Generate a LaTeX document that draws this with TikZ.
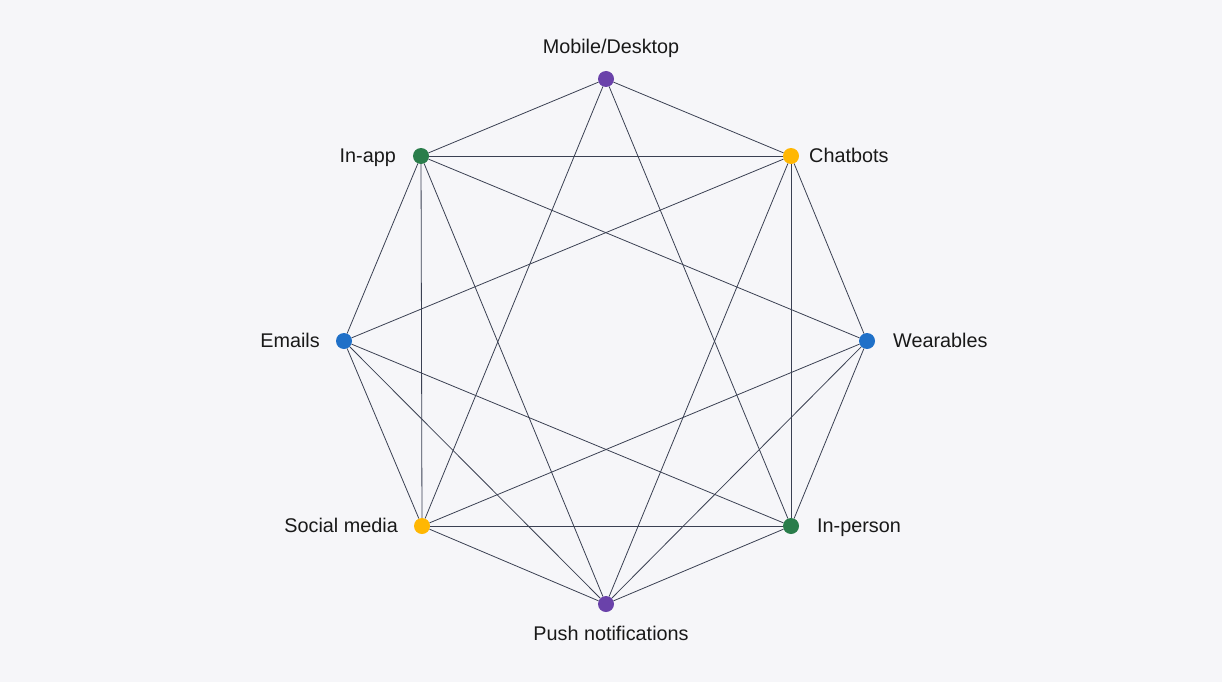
\documentclass[tikz,border=0pt]{standalone}
\usepackage{fontspec}
\setmainfont{Liberation Sans}
\definecolor{bgc}{HTML}{F6F6F9}
\definecolor{edgec}{HTML}{3A4052}
\definecolor{cpurple}{HTML}{6A42AA}
\definecolor{cgreen}{HTML}{2A7D4B}
\definecolor{cyellow}{HTML}{FFB703}
\definecolor{cblue}{HTML}{1F70C8}
\begin{document}
\begin{tikzpicture}[x=1pt,y=-1pt,
  vert/.style={circle,inner sep=0pt,minimum size=16pt},
  lbl/.style={inner sep=0pt,text height=14pt,text depth=4pt,font=\fontsize{19.8}{23}\selectfont,text=black!90},
  edge/.style={draw=edgec,line width=0.8pt}]
\fill[bgc] (0,0) rectangle (1222,682);
\useasboundingbox (0,0) rectangle (1222,682);
\node[vert,fill=cpurple] (m) at (606,79) {};
\node[vert,fill=cyellow] (c) at (791,156) {};
\node[vert,fill=cblue] (w) at (867,341) {};
\node[vert,fill=cgreen] (p) at (791,526) {};
\node[vert,fill=cpurple] (n) at (606,604) {};
\node[vert,fill=cyellow] (s) at (422,526) {};
\node[vert,fill=cblue] (e) at (344,341) {};
\node[vert,fill=cgreen] (a) at (421,156) {};
\foreach \u/\v in {m/a,m/c,m/s,m/p,a/c,a/w,a/n,a/s,a/e,c/e,c/n,c/p,c/w,e/p,e/s,e/n,w/s,w/n,w/p,s/p,s/n,p/n}
  \draw[edge] (\u) -- (\v);
\node[lbl] (lm) at (611,49) {Mobile/Desktop};
\node[lbl,anchor=west] (lc) at (809,157) {Chatbots};
\node[lbl,anchor=west] (lw) at (893,342) {Wearables};
\node[lbl,anchor=west] (lp) at (817,527) {In-person};
\node[lbl] (ln) at (611,635) {Push notifications};
\node[lbl,anchor=east] (ls) at (398,527) {Social media};
\node[lbl,anchor=east] (le) at (320,342) {Emails};
\node[lbl,anchor=east] (la) at (396,157) {In-app};
\end{tikzpicture}
\end{document}
